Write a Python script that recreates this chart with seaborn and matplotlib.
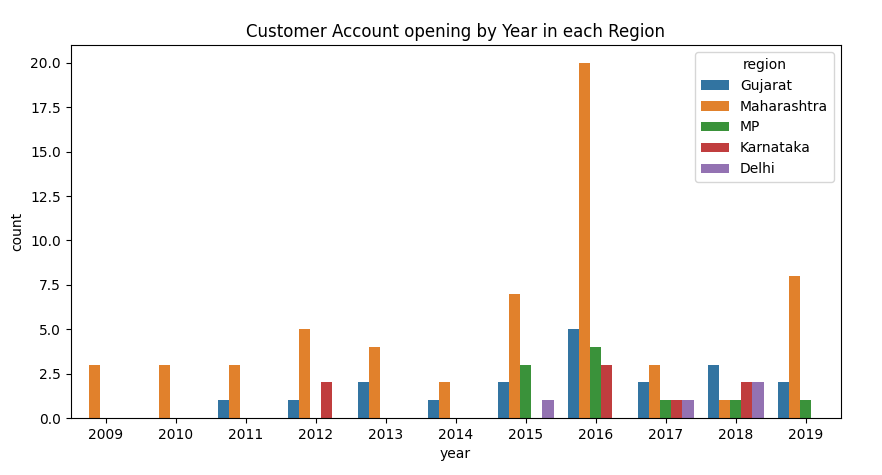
import matplotlib
matplotlib.use("Agg")
import matplotlib.pyplot as plt
import seaborn as sns
import pandas as pd

years = ["2009", "2010", "2011", "2012", "2013", "2014", "2015", "2016", "2017", "2018", "2019"]
regions = ["Gujarat", "Maharashtra", "MP", "Karnataka", "Delhi"]
gujarat = [0, 0, 1, 1, 2, 1, 2, 5, 2, 3, 2]
maharashtra = [3, 3, 3, 5, 4, 2, 7, 20, 3, 1, 8]
mp = [0, 0, 0, 0, 0, 0, 3, 4, 1, 1, 1]
karnataka = [0, 0, 0, 2, 0, 0, 0, 3, 1, 2, 0]
delhi = [0, 0, 0, 0, 0, 0, 1, 0, 1, 2, 0]

series = [gujarat, maharashtra, mp, karnataka, delhi]
rows = []
for reg, vals in zip(regions, series):
    for y, v in zip(years, vals):
        rows.append({"year": y, "region": reg, "count": v})
df = pd.DataFrame(rows)

fig = plt.figure(figsize=(8.82, 4.75), dpi=100)
ax = fig.add_axes([0.08, 0.12, 0.873, 0.785])
sns.barplot(data=df, x="year", y="count", hue="region", order=years,
            hue_order=regions, palette="tab10", saturation=0.75, ax=ax)
ax.set_title("Customer Account opening by Year in each Region")
ax.set_ylim(0, 21)
ax.set_yticks([0, 2.5, 5, 7.5, 10, 12.5, 15, 17.5, 20])
ax.set_yticklabels(["0.0", "2.5", "5.0", "7.5", "10.0", "12.5", "15.0", "17.5", "20.0"])
ax.legend(title="region", loc="upper right")
fig.savefig("out.png", dpi=100)
